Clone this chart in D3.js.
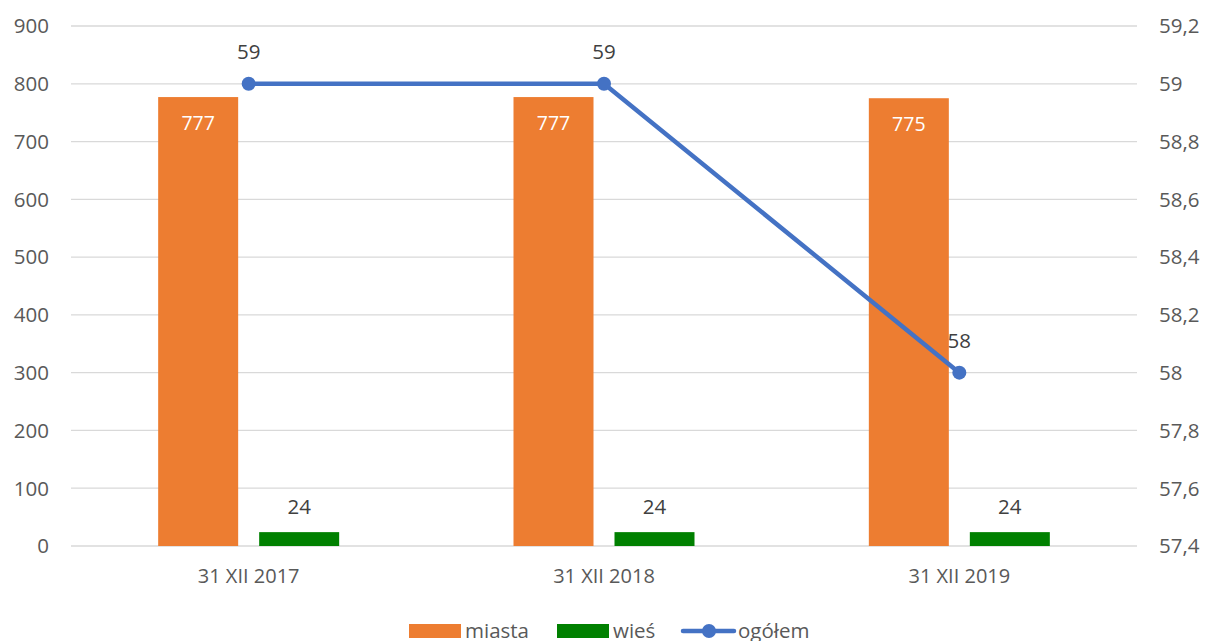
<!DOCTYPE html>
<html lang="pl">
<head>
<meta charset="UTF-8">
<title>Wykres</title>
<script src="https://d3js.org/d3.v7.min.js"></script>
<style>
    body { margin: 0; background: #fff; }
    text { font-family: "Open Sans", "Noto Sans", sans-serif; }
</style>
</head>
<body>
<div id="chart"></div>
<script>
const categories = ["31 XII 2017", "31 XII 2018", "31 XII 2019"];
const miasta = [777, 777, 775];
const wies = [24, 24, 24];
const ogolem = [59, 59, 58];
const leftTicks = [0, 100, 200, 300, 400, 500, 600, 700, 800, 900];
const rightTicks = [57.4, 57.6, 57.8, 58, 58.2, 58.4, 58.6, 58.8, 59, 59.2];

const width = 1205, height = 641;
const margin = { top: 26, right: 68, bottom: 95, left: 71 };

const svg = d3.select("#chart").append("svg")
    .attr("width", width)
    .attr("height", height);

const x = d3.scaleBand()
    .domain(categories)
    .range([margin.left, width - margin.right]);

const yLeft = d3.scaleLinear().domain([0, 900]).range([height - margin.bottom, margin.top]);
const yRight = d3.scaleLinear().domain([57.4, 59.2]).range([height - margin.bottom, margin.top]);

const fmt = v => String(v).replace(".", ",");

// gridlines
svg.append("g")
    .selectAll("line")
    .data(leftTicks)
    .enter().append("line")
    .attr("x1", margin.left)
    .attr("x2", width - margin.right)
    .attr("y1", d => yLeft(d))
    .attr("y2", d => yLeft(d))
    .attr("stroke", "#d9d9d9")
    .attr("stroke-width", 1.3);

// left axis labels
svg.append("g")
    .selectAll("text")
    .data(leftTicks)
    .enter().append("text")
    .attr("x", 49)
    .attr("y", d => yLeft(d))
    .attr("dy", "0.36em")
    .attr("text-anchor", "end")
    .attr("fill", "#595959")
    .style("font-size", "20.5px")
    .text(d => d);

// right axis labels
svg.append("g")
    .selectAll("text")
    .data(rightTicks)
    .enter().append("text")
    .attr("x", 1159)
    .attr("y", d => yRight(d))
    .attr("dy", "0.36em")
    .attr("text-anchor", "start")
    .attr("fill", "#595959")
    .style("font-size", "20.5px")
    .text(d => fmt(d));

// category labels
svg.append("g")
    .selectAll("text")
    .data(categories)
    .enter().append("text")
    .attr("x", d => x(d) + x.bandwidth() / 2)
    .attr("y", 583)
    .attr("text-anchor", "middle")
    .attr("fill", "#595959")
    .style("font-size", "20px")
    .text(d => d);

const barW = 80, gap = 21;
const cx = d => x(d) + x.bandwidth() / 2;

// miasta bars
const g = svg.append("g");
g.selectAll(".miasta")
    .data(categories)
    .enter().append("rect")
    .attr("x", d => cx(d) - gap / 2 - barW)
    .attr("width", barW)
    .attr("y", (d, i) => yLeft(miasta[i]))
    .attr("height", (d, i) => yLeft(0) - yLeft(miasta[i]))
    .attr("fill", "#ED7D31");

g.selectAll(".miastaLabel")
    .data(categories)
    .enter().append("text")
    .attr("x", d => cx(d) - gap / 2 - barW / 2)
    .attr("y", (d, i) => yLeft(miasta[i]) + 33)
    .attr("text-anchor", "middle")
    .attr("fill", "#fff")
    .style("font-size", "19.5px")
    .text((d, i) => miasta[i]);

// wies bars
g.selectAll(".wies")
    .data(categories)
    .enter().append("rect")
    .attr("x", d => cx(d) + gap / 2)
    .attr("width", barW)
    .attr("y", (d, i) => yLeft(wies[i]))
    .attr("height", (d, i) => yLeft(0) - yLeft(wies[i]))
    .attr("fill", "#008000");

g.selectAll(".wiesLabel")
    .data(categories)
    .enter().append("text")
    .attr("x", d => cx(d) + gap / 2 + barW / 2)
    .attr("y", (d, i) => yLeft(wies[i]) - 18)
    .attr("text-anchor", "middle")
    .attr("fill", "#404040")
    .style("font-size", "20.5px")
    .text((d, i) => wies[i]);

// ogolem line
const line = d3.line()
    .x(d => cx(d))
    .y((d, i) => yRight(ogolem[i]));

svg.append("path")
    .datum(categories)
    .attr("d", line)
    .attr("fill", "none")
    .attr("stroke", "#4472C4")
    .attr("stroke-width", 4.5)
    .attr("stroke-linejoin", "round");

svg.append("g")
    .selectAll("circle")
    .data(categories)
    .enter().append("circle")
    .attr("cx", d => cx(d))
    .attr("cy", (d, i) => yRight(ogolem[i]))
    .attr("r", 7)
    .attr("fill", "#4472C4");

svg.append("g")
    .selectAll("text")
    .data(categories)
    .enter().append("text")
    .attr("x", d => cx(d))
    .attr("y", (d, i) => yRight(ogolem[i]) - 25)
    .attr("text-anchor", "middle")
    .attr("fill", "#404040")
    .style("font-size", "20.5px")
    .text((d, i) => ogolem[i]);

// legend
const legend = svg.append("g").attr("transform", "translate(0,631)");
legend.append("rect").attr("x", 409).attr("y", -7).attr("width", 52).attr("height", 14).attr("fill", "#ED7D31");
legend.append("text").attr("x", 465).attr("y", 7).attr("fill", "#595959").style("font-size", "20.5px").text("miasta");
legend.append("rect").attr("x", 557).attr("y", -7).attr("width", 52).attr("height", 14).attr("fill", "#008000");
legend.append("text").attr("x", 613).attr("y", 7).attr("fill", "#595959").style("font-size", "20.5px").text("wieś");
legend.append("line").attr("x1", 683).attr("x2", 734).attr("y1", 0).attr("y2", 0)
    .attr("stroke", "#4472C4").attr("stroke-width", 4.5).attr("stroke-linecap", "round");
legend.append("circle").attr("cx", 709).attr("cy", 0).attr("r", 7).attr("fill", "#4472C4");
legend.append("text").attr("x", 738).attr("y", 7).attr("fill", "#595959").style("font-size", "20.5px").text("ogółem");
</script>
</body>
</html>
